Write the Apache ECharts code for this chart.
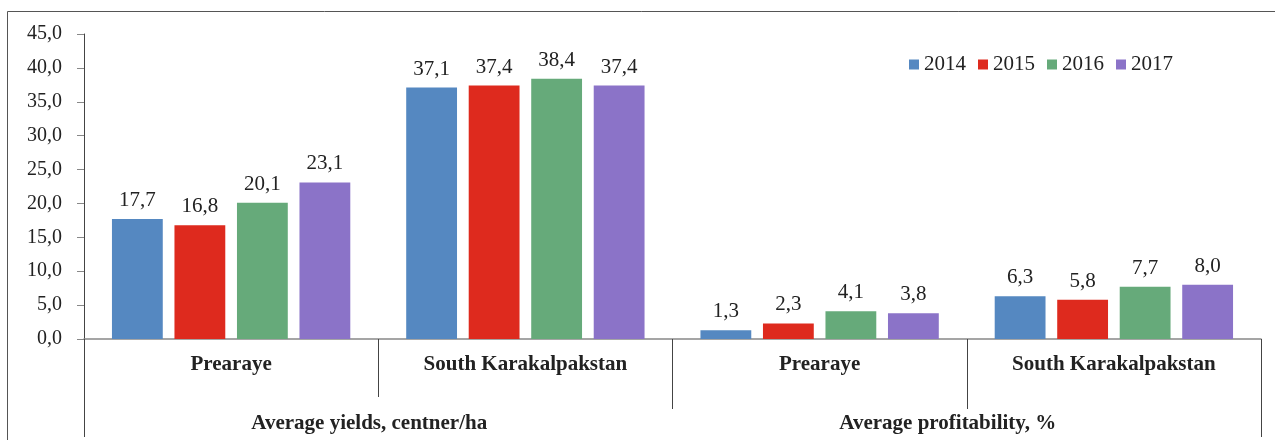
<!DOCTYPE html>
<html>
<head>
<meta charset="utf-8">
<title>Average yields and profitability</title>
<script src="https://cdn.jsdelivr.net/npm/echarts@6/dist/echarts.min.js"></script>
<style>
  html, body { margin: 0; padding: 0; background: #ffffff; }
  #chart { width: 1275px; height: 440px; }
</style>
</head>
<body>
<div id="chart"></div>
<script>
// Region categories (first level) and indicator groups (second level)
const categories = ['Prearaye', 'South Karakalpakstan', 'Prearaye', 'South Karakalpakstan'];
const groups = ['Average yields, centner/ha', 'Average profitability, %'];
const years = ['2014', '2015', '2016', '2017'];

// Values per year, one entry per region category
const values2014 = [17.7, 37.1, 1.3, 6.3];
const values2015 = [16.8, 37.4, 2.3, 5.8];
const values2016 = [20.1, 38.4, 4.1, 7.7];
const values2017 = [23.1, 37.4, 3.8, 8.0];

// Value axis range
const yMin = 0;
const yMax = 45;
const yStep = 5;

const seriesValues = [values2014, values2015, values2016, values2017];
const colors = ['#5588C1', '#DE2A1E', '#66AA7A', '#8B73C8'];
const serif = '"Liberation Serif", "Times New Roman", serif';
const fmt = v => Number(v).toFixed(1).replace('.', ',');

const plotLeft = 84, plotRight = 14, plotTop = 34, plotBottom = 101;
const plotWidth = 1275 - plotLeft - plotRight;

const chart = echarts.init(document.getElementById('chart'), null, { renderer: 'canvas' });

chart.setOption({
  backgroundColor: '#ffffff',
  animation: false,
  color: colors,
  graphic: [{
    type: 'rect',
    shape: { x: 7.5, y: 11.5, width: 1300, height: 500 },
    style: { fill: 'none', stroke: '#555555', lineWidth: 1 },
    silent: true
  }],
  legend: {
    data: years,
    left: 904,
    top: 49,
    icon: 'rect',
    itemWidth: 10,
    itemHeight: 10,
    itemGap: 12,
    textStyle: { fontFamily: serif, fontSize: 21, color: '#222222' }
  },
  grid: [
    { left: plotLeft, right: plotRight, top: plotTop, bottom: plotBottom, containLabel: false },
    { left: plotLeft + plotWidth / 2, right: plotRight, top: plotTop, bottom: plotBottom, containLabel: false }
  ],
  yAxis: [
    {
      gridIndex: 0,
      type: 'value',
      min: yMin,
      max: yMax,
      interval: yStep,
      axisLine: { show: true, lineStyle: { color: '#444444', width: 1 } },
      axisTick: { show: true, length: 7, lineStyle: { color: '#888888' } },
      splitLine: { show: false },
      axisLabel: {
        margin: 22,
        fontFamily: serif,
        fontSize: 20,
        color: '#222222',
        formatter: fmt
      }
    },
    { gridIndex: 1, type: 'value', min: yMin, max: yMax, show: false }
  ],
  xAxis: [
    {
      // first level: regions
      gridIndex: 0,
      type: 'category',
      position: 'bottom',
      data: categories,
      axisLine: { show: true, onZero: false, lineStyle: { color: '#888888', width: 1.5 } },
      axisTick: { show: true, interval: 0, length: 58, lineStyle: { color: '#444444' } },
      axisLabel: {
        interval: 0,
        margin: 15,
        fontFamily: serif,
        fontWeight: 'bold',
        fontSize: 21,
        color: '#222222'
      }
    },
    {
      // second level: indicator groups
      gridIndex: 0,
      type: 'category',
      position: 'bottom',
      data: groups,
      axisLine: { show: false, onZero: false },
      axisTick: { show: true, interval: 0, length: 70, lineStyle: { color: '#444444' } },
      axisLabel: {
        interval: 0,
        margin: 74,
        formatter: (v, i) => (i === 0 ? '{a|' + v + '}' : '{b|' + v + '}'),
        rich: {
          a: { fontFamily: serif, fontWeight: 'bold', fontSize: 21, color: '#222222', padding: [0, 18, 0, 0] },
          b: { fontFamily: serif, fontWeight: 'bold', fontSize: 21, color: '#222222', padding: [0, 38, 0, 0] }
        }
      }
    },
    {
      // outer frame lines of the category block
      gridIndex: 0,
      type: 'category',
      position: 'bottom',
      data: [''],
      axisLine: { show: false, onZero: false },
      axisTick: { show: true, length: 98, lineStyle: { color: '#444444' } },
      axisLabel: { show: false }
    },
    {
      // divider inside the profitability group
      gridIndex: 1,
      type: 'category',
      position: 'bottom',
      data: ['', ''],
      axisLine: { show: false, onZero: false },
      axisTick: { show: true, interval: 0, length: 70, lineStyle: { color: '#444444' } },
      axisLabel: { show: false }
    }
  ],
  series: years.map((y, i) => ({
    name: y,
    type: 'bar',
    xAxisIndex: 0,
    yAxisIndex: 0,
    data: seriesValues[i],
    barCategoryGap: '19%',
    barGap: '23%',
    itemStyle: { color: colors[i] },
    label: {
      show: true,
      position: 'top',
      distance: 8,
      fontFamily: serif,
      fontSize: 21,
      color: '#222222',
      formatter: p => fmt(p.value)
    }
  }))
});
</script>
</body>
</html>
